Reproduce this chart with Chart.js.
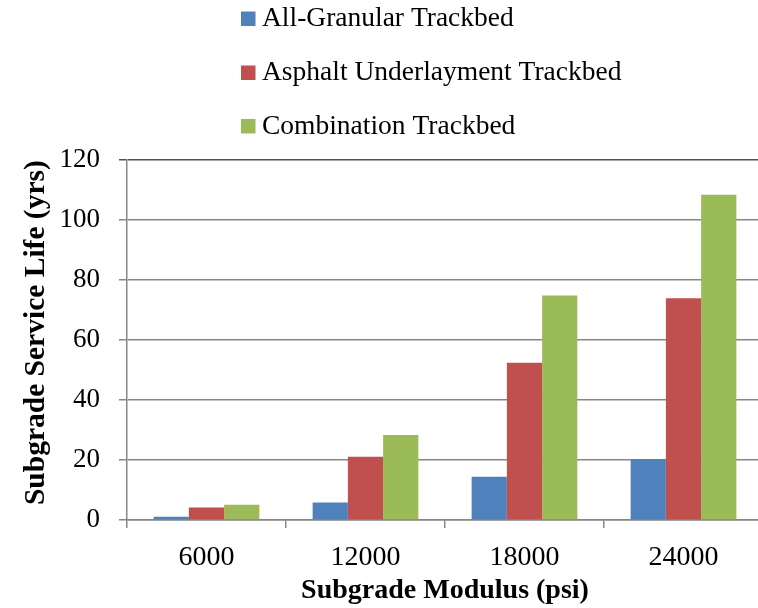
<!DOCTYPE html>
<html>
<head>
<meta charset="utf-8">
<script src="https://cdn.jsdelivr.net/npm/chart.js@4/dist/chart.umd.min.js"></script>
<style>
  html, body { margin: 0; padding: 0; overflow: hidden; background: #ffffff; }
  #wrap { position: relative; width: 763px; height: 608px; }
</style>
</head>
<body>
<div id="wrap"><canvas id="chart"></canvas></div>
<script>
// Subgrade service life by subgrade modulus, for three trackbed designs
const categories = ['6000', '12000', '18000', '24000'];
const seriesNames = ['All-Granular Trackbed', 'Asphalt Underlayment Trackbed', 'Combination Trackbed'];
const allGranular = [1.1, 5.8, 14.4, 20.3];
const asphaltUnderlayment = [4.2, 21.1, 52.4, 73.9];
const combination = [5.1, 28.3, 74.8, 108.4];
const yTickValues = [0, 20, 40, 60, 80, 100, 120];

const SERIF = "'Liberation Serif', 'Times New Roman', serif";
const colors = ['#4F81BD', '#C0504D', '#9BBB59'];

// Stacked-row legend drawn above the plot, boxes sitting on the text baseline
const rowLegend = {
  id: 'rowLegend',
  afterDraw(chart) {
    const ctx = chart.ctx;
    const boxX = 241, box = 14.5, textX = 262;
    const baselines = [26, 80, 133.5];
    ctx.save();
    ctx.font = '27.5px ' + SERIF;
    ctx.textAlign = 'left';
    ctx.textBaseline = 'alphabetic';
    chart.data.datasets.forEach((ds, i) => {
      const b = baselines[i];
      ctx.fillStyle = ds.backgroundColor;
      ctx.fillRect(boxX, b - box, box, box);
      ctx.fillStyle = '#000000';
      ctx.fillText(ds.label, textX, b);
    });
    ctx.restore();
  }
};

new Chart(document.getElementById('chart'), {
  type: 'bar',
  data: {
    labels: categories,
    datasets: [
      { label: seriesNames[0], data: allGranular, backgroundColor: colors[0] },
      { label: seriesNames[1], data: asphaltUnderlayment, backgroundColor: colors[1] },
      { label: seriesNames[2], data: combination, backgroundColor: colors[2] }
    ]
  },
  options: {
    responsive: true,
    maintainAspectRatio: false,
    animation: false,
    layout: { padding: { top: 160, right: 0, bottom: 0, left: 0 } },
    datasets: { bar: { categoryPercentage: 0.665, barPercentage: 1.0 } },
    plugins: {
      legend: { display: false },
      tooltip: { enabled: false }
    },
    scales: {
      x: {
        afterFit(scale) { scale.height = 88; },
        grid: {
          offset: true,
          drawOnChartArea: false,
          drawTicks: true,
          tickLength: 8,
          color: '#878787',
          lineWidth: 1.5
        },
        border: { display: true, color: '#878787', width: 1.5 },
        ticks: {
          color: '#000000',
          padding: 13,
          font: { family: SERIF, size: 28 }
        },
        title: {
          display: true,
          text: 'Subgrade Modulus (psi)',
          color: '#000000',
          padding: { top: 0, bottom: 0 },
          font: { family: SERIF, size: 28, weight: 'bold' }
        }
      },
      y: {
        min: 0,
        max: 120,
        afterFit(scale) { scale.width = 127; },
        afterBuildTicks(scale) { scale.ticks = yTickValues.map(v => ({ value: v })); },
        grid: {
          drawTicks: true,
          tickLength: 8,
          color: ctx => (ctx.tick && ctx.tick.value === 120 ? '#505050' : '#878787'),
          lineWidth: 1.5
        },
        border: { display: true, color: '#878787', width: 1.5 },
        ticks: {
          color: '#000000',
          padding: 19,
          font: { family: SERIF, size: 27 }
        },
        title: {
          display: true,
          // two leading spaces lift the rotated title slightly above the axis middle
          text: '  Subgrade Service Life (yrs)',
          color: '#000000',
          padding: { top: 19, bottom: 0 },
          font: { family: SERIF, size: 29.5, weight: 'bold' }
        }
      }
    }
  },
  plugins: [rowLegend]
});
</script>
</body>
</html>
